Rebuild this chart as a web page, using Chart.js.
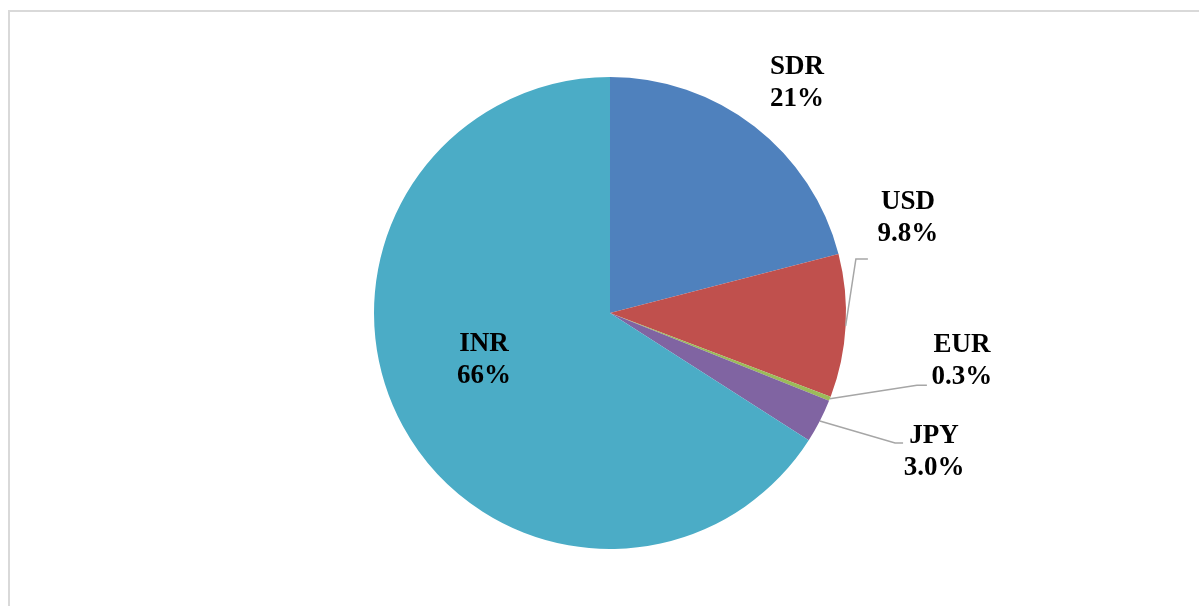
<!DOCTYPE html>
<html>
<head>
<meta charset="utf-8">
<script src="https://cdn.jsdelivr.net/npm/chart.js@4.4.1/dist/chart.umd.min.js"></script>
<style>
  html, body { margin: 0; padding: 0; background: #fff; overflow: hidden; }
  #frame { position: absolute; left: 8px; top: 10px; width: 1200px; height: 620px; border: 2px solid #d9d9d9; box-sizing: border-box; }
  #chart { position: absolute; left: 0; top: 0; }
</style>
</head>
<body>
<div id="frame"></div>
<canvas id="chart" width="1199" height="606"></canvas>
<script>
// currency shares (%)
const currencies = ["SDR", "USD", "EUR", "JPY", "INR"];
const shares = [21, 9.8, 0.3, 3.0, 66];
const shareLabels = ["21%", "9.8%", "0.3%", "3.0%", "66%"];
const colors = ["#4f81bd", "#c0504d", "#9bbb59", "#8064a2", "#4bacc6"];

// label placement: angle (deg, clockwise from top) and distance in radii,
// leader line end/elbow as offsets from the label centre
const labelLayout = [
    { angle: 39.1, dist: 1.256 },
    { angle: 72.3, dist: 1.325, line: [[-40, 41], [-52, 41]] },
    { angle: 97.8, dist: 1.505, line: [[-35, 24], [-45, 24]] },
    { angle: 113.2, dist: 1.494, line: [[-31, -9], [-39, -9]] },
    { angle: 249.5, dist: 0.570 }
];

const pieLabels = {
    id: "pieLabels",
    afterDatasetsDraw(chart) {
        const ctx = chart.ctx;
        const arcs = chart.getDatasetMeta(0).data;
        ctx.save();
        ctx.font = "bold 27px 'Liberation Serif', 'Times New Roman', serif";
        ctx.textAlign = "center";
        ctx.textBaseline = "middle";
        arcs.forEach((arc, i) => {
            const { x, y, outerRadius, startAngle, endAngle } = arc.getProps(["x", "y", "outerRadius", "startAngle", "endAngle"], true);
            const lay = labelLayout[i];
            const a = lay.angle * Math.PI / 180;
            const lx = x + Math.sin(a) * outerRadius * lay.dist;
            const ly = y - Math.cos(a) * outerRadius * lay.dist;
            if (lay.line) {
                const mid = (startAngle + endAngle) / 2;
                ctx.strokeStyle = "#a6a6a6";
                ctx.lineWidth = 1.5;
                ctx.beginPath();
                ctx.moveTo(lx + lay.line[0][0], ly + lay.line[0][1]);
                ctx.lineTo(lx + lay.line[1][0], ly + lay.line[1][1]);
                ctx.lineTo(x + Math.cos(mid) * outerRadius, y + Math.sin(mid) * outerRadius);
                ctx.stroke();
            }
            ctx.fillStyle = "#000";
            ctx.fillText(currencies[i], lx, ly - 16);
            ctx.fillText(shareLabels[i], lx, ly + 16);
        });
        ctx.restore();
    }
};

new Chart(document.getElementById("chart"), {
    type: "pie",
    data: {
        labels: currencies,
        datasets: [{
            data: shares,
            backgroundColor: colors,
            borderWidth: 0
        }]
    },
    options: {
        responsive: false,
        animation: false,
        layout: { padding: { left: 374, right: 353, top: 77, bottom: 57 } },
        plugins: {
            legend: { display: false },
            tooltip: { enabled: false }
        }
    },
    plugins: [pieLabels]
});
</script>
</body>
</html>
